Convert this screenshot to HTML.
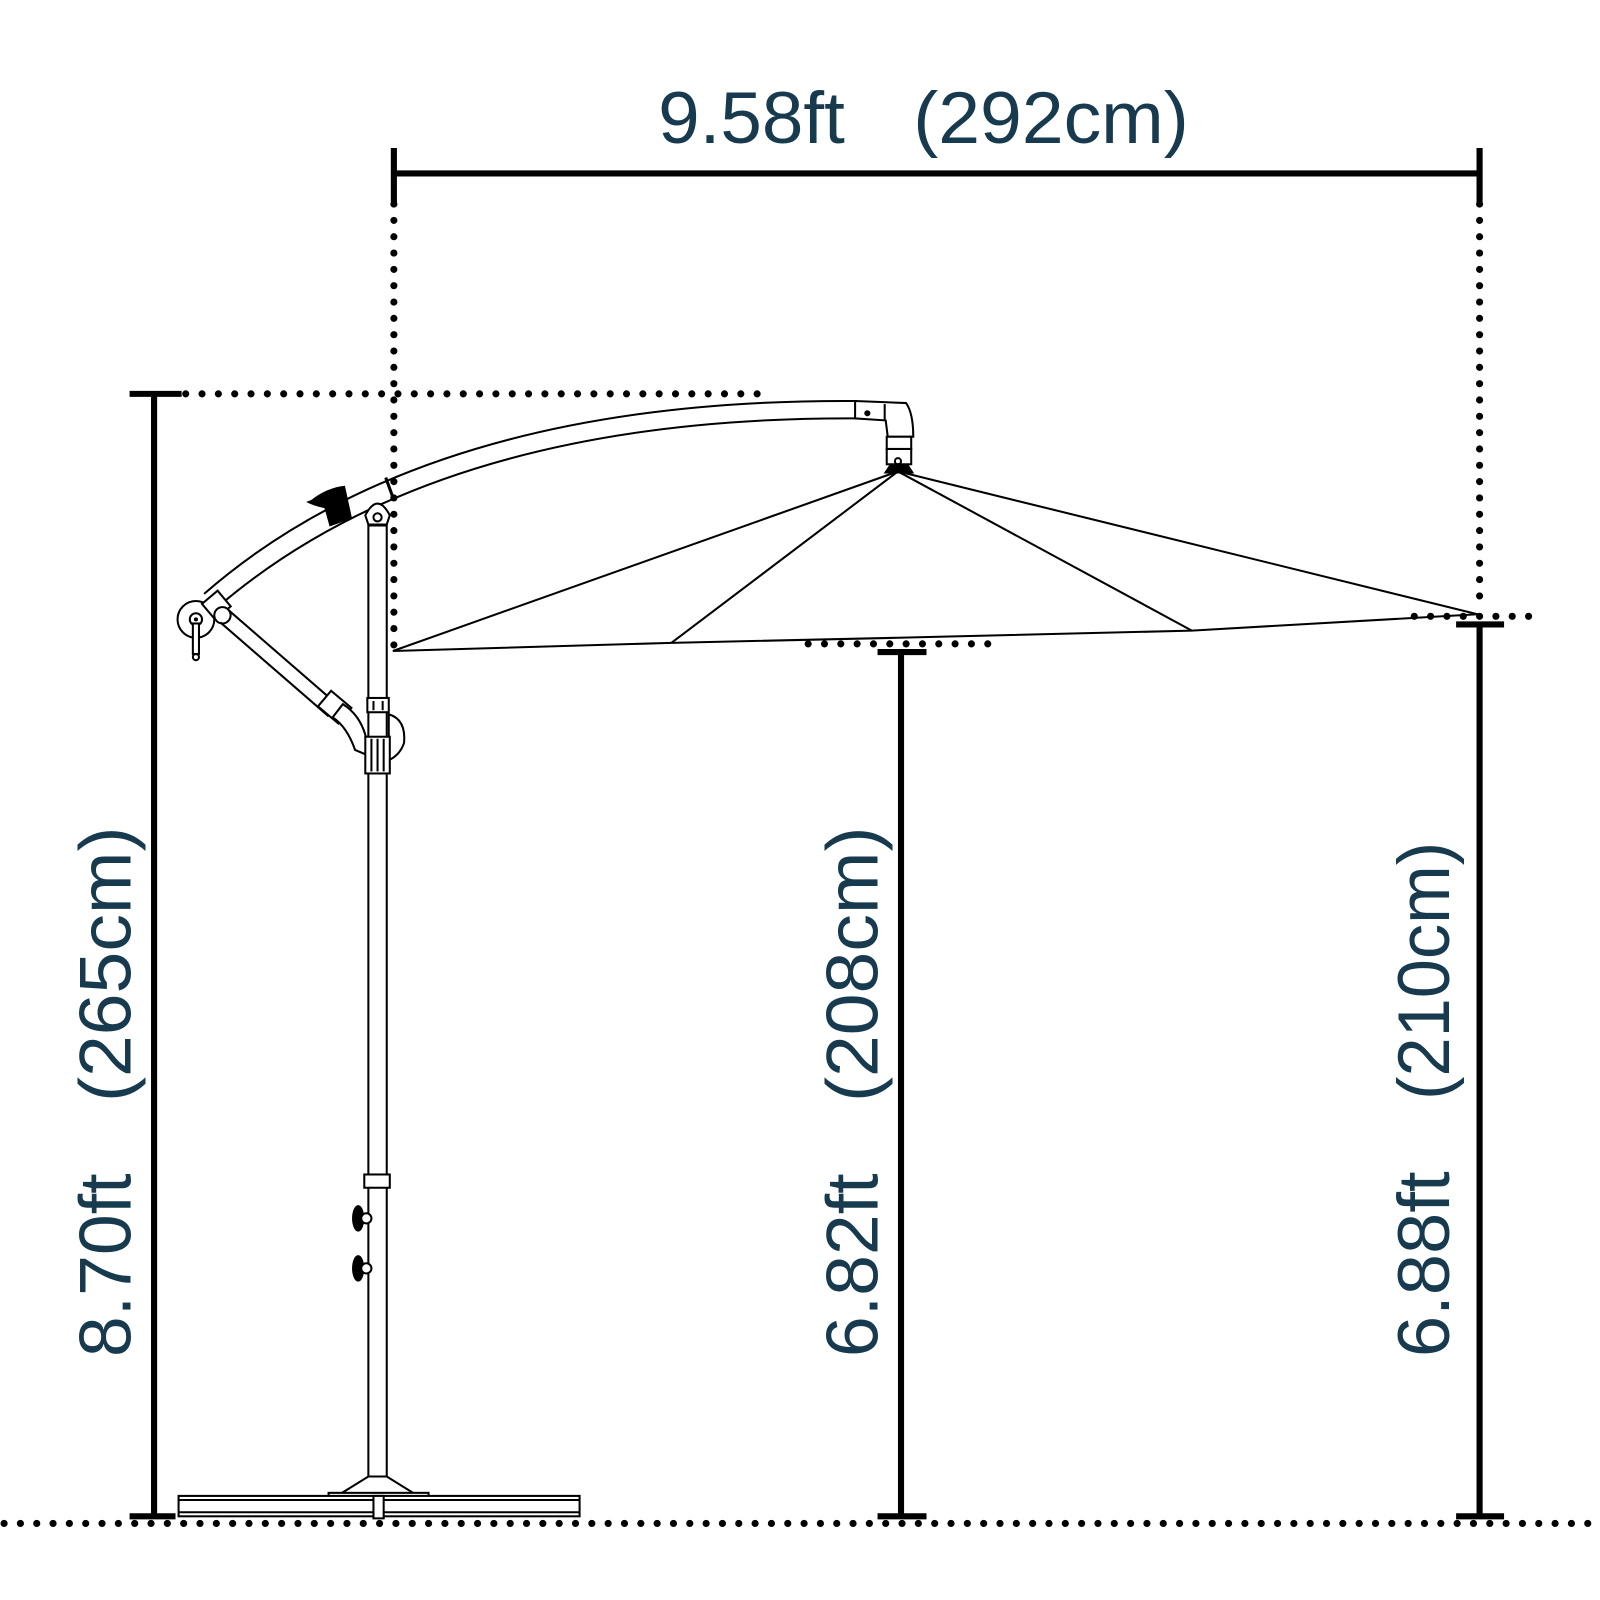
<!DOCTYPE html>
<html><head><meta charset="utf-8"><style>html,body{margin:0;padding:0;background:#fff}svg{display:block}</style></head>
<body>
<svg width="1600" height="1600" viewBox="0 0 1600 1600" xmlns="http://www.w3.org/2000/svg">
<defs>
<style>
.dot{stroke:#000;stroke-width:7;stroke-linecap:round;stroke-dasharray:0 16;fill:none}
.dim{stroke:#000;stroke-width:6;fill:none}
.ln{stroke:#000;stroke-width:2;fill:none}
.lnw{stroke:#000;stroke-width:2;fill:#fff}
.t{font-family:"Liberation Sans",sans-serif;font-size:72px;fill:#173a4f}
</style>
</defs>
<rect width="1600" height="1600" fill="#fff"/>
<g transform="scale(1.0204)">
<!-- dotted guides -->
<line class="dot" x1="4" y1="1493" x2="1565" y2="1493"/>
<line class="dot" x1="386" y1="200" x2="386" y2="636"/>
<line class="dot" x1="1450" y1="200" x2="1450" y2="600"/>
<line class="dot" x1="182" y1="386" x2="752" y2="386"/>
<line class="dot" x1="792" y1="631" x2="980" y2="631"/>
<line class="dot" x1="1386" y1="604" x2="1510" y2="604"/>

<!-- dimension lines -->
<line class="dim" x1="386" y1="170" x2="1450" y2="170"/>
<line class="dim" x1="386" y1="145" x2="386" y2="198"/>
<line class="dim" x1="1450" y1="145" x2="1450" y2="198"/>

<line class="dim" x1="151" y1="386" x2="151" y2="1486"/>
<line class="dim" x1="127" y1="386" x2="178" y2="386"/>
<line class="dim" x1="127" y1="1486" x2="172" y2="1486"/>

<line class="dim" x1="883" y1="637" x2="883" y2="1486"/>
<line class="dim" x1="860" y1="639" x2="908" y2="639"/>
<line class="dim" x1="860" y1="1486" x2="908" y2="1486"/>

<line class="dim" x1="1450" y1="610" x2="1450" y2="1486"/>
<line class="dim" x1="1427" y1="612" x2="1474" y2="612"/>
<line class="dim" x1="1427" y1="1486" x2="1474" y2="1486"/>

<!-- text -->
<text class="t" x="645" y="140" textLength="183" lengthAdjust="spacingAndGlyphs">9.58ft</text>
<text class="t" x="895" y="140" textLength="270" lengthAdjust="spacingAndGlyphs">(292cm)</text>
<g transform="translate(128,1330) rotate(-90)">
<text class="t" x="0" y="0" textLength="180" lengthAdjust="spacingAndGlyphs">8.70ft</text>
<text class="t" x="250" y="0" textLength="270" lengthAdjust="spacingAndGlyphs">(265cm)</text>
</g>
<g transform="translate(860,1330) rotate(-90)">
<text class="t" x="0" y="0" textLength="180" lengthAdjust="spacingAndGlyphs">6.82ft</text>
<text class="t" x="250" y="0" textLength="270" lengthAdjust="spacingAndGlyphs">(208cm)</text>
</g>
<g transform="translate(1420,1330) rotate(-90)">
<text class="t" x="0" y="0" textLength="182" lengthAdjust="spacingAndGlyphs">6.88ft</text>
<text class="t" x="252" y="0" textLength="253" lengthAdjust="spacingAndGlyphs">(210cm)</text>
</g>

<!-- canopy -->
<polyline class="ln" points="385,638 658,630 880,625 1168,618 1448,602"/>
<line class="ln" x1="880" y1="462" x2="385" y2="638"/>
<line class="ln" x1="880" y1="462" x2="658" y2="630"/>
<line class="ln" x1="880" y1="462" x2="1168" y2="618"/>
<line class="ln" x1="880" y1="462" x2="1448" y2="602"/>

<!-- arm -->
<path class="ln" d="M200,582 Q420,390 840,393"/>
<path class="ln" d="M212,596 Q430,408 840,410"/>
<path class="lnw" d="M838,393 L888,395 Q895,405 895,428 L870,428 L868,412 L838,410 Z"/>
<line class="ln" x1="867" y1="396" x2="867" y2="412"/>
<circle cx="850" cy="405" r="3" fill="#000"/>
<rect class="lnw" x="869" y="428" width="24" height="12"/>
<rect class="lnw" x="869" y="440" width="24" height="15"/>
<circle cx="880" cy="452" r="3" class="ln"/>
<path d="M872,455 L890,455 L896,464 L866,464 Z" fill="#000"/>
<path d="M305,490 Q320,478 338,476 L345,508 L323,516 L318,498 Q308,496 300,492 Z" fill="#000"/>
<line class="ln" x1="378" y1="468" x2="386" y2="490" style="stroke-width:3"/>
<circle class="lnw" cx="192" cy="607" r="18"/>
<circle cx="192" cy="607" r="6" class="ln"/>
<circle cx="192" cy="607" r="2" fill="#000"/>
<rect class="lnw" x="189" y="611" width="6" height="30"/>
<circle class="lnw" cx="192" cy="644" r="3"/>
<rect class="lnw" x="202" y="583" width="20" height="20" transform="rotate(-40 212 593)"/>
<circle class="lnw" cx="218" cy="603" r="8"/>
<path class="ln" d="M224,598 L330,690"/>
<path class="ln" d="M216,610 L322,702"/>
<rect class="lnw" x="318" y="680" width="20" height="26" transform="rotate(-50 328 693)"/>
<path class="lnw" d="M336,690 Q352,700 358,720 L360,740 L348,735 Q340,712 326,703 Z"/>

<!-- pole -->
<rect class="lnw" x="361" y="515" width="18" height="940"/>
<path class="lnw" d="M358,505 Q370,482 382,505 L379,514 L361,514 Z"/>
<circle cx="370" cy="507" r="4" class="ln"/>
<rect class="lnw" x="360" y="684" width="21" height="14"/>
<line class="ln" x1="366" y1="687" x2="366" y2="696"/><line class="ln" x1="375" y1="687" x2="375" y2="696"/>
<path class="lnw" d="M381,700 Q398,705 396,728 Q392,740 381,745 Z"/>
<rect class="lnw" x="358" y="722" width="24" height="36"/>
<line class="ln" x1="364" y1="724" x2="364" y2="756"/><line class="ln" x1="370" y1="724" x2="370" y2="756"/><line class="ln" x1="376" y1="724" x2="376" y2="756"/>
<rect class="lnw" x="357" y="1151" width="25" height="13"/>
<ellipse cx="351" cy="1194" rx="6" ry="13" fill="#000"/><circle class="lnw" cx="359" cy="1194" r="5"/>
<ellipse cx="351" cy="1243" rx="6" ry="13" fill="#000"/><circle class="lnw" cx="359" cy="1243" r="5"/>
<path class="lnw" d="M361,1447 L379,1447 L408,1465 L332,1465 Z"/>
<rect class="lnw" x="322" y="1463" width="98" height="4"/>
<rect class="lnw" x="175" y="1466" width="393" height="20"/>
<line class="ln" x1="175" y1="1470" x2="568" y2="1470"/>
<line class="ln" x1="175" y1="1482" x2="568" y2="1482"/>
<rect class="lnw" x="366" y="1466" width="10" height="22"/>
</g>
</svg>
</body></html>
